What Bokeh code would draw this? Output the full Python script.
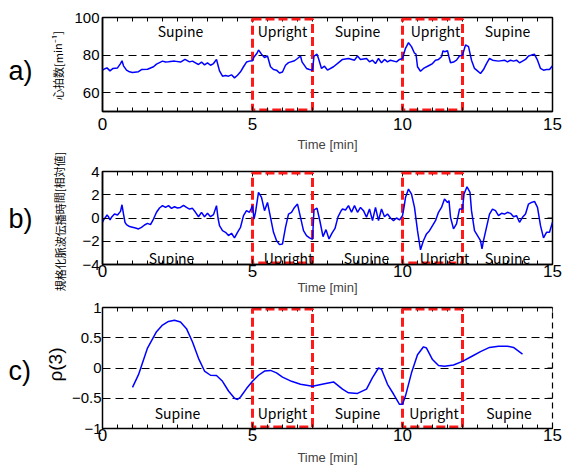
import math
from bokeh.plotting import figure
from bokeh.layouts import column, row
from bokeh.models import Range1d, FixedTicker, LinearAxis, CustomJSTickFormatter
from bokeh.core.properties import value
from bokeh.embed import file_html
from bokeh.resources import INLINE

# ---------------- data ----------------
hr_t = [0.0, 0.1, 0.15, 0.25, 0.35, 0.5, 0.6, 0.65, 0.7, 0.8, 0.9, 1.0, 1.2, 1.3, 1.5, 1.7, 1.8,
        2.0, 2.1, 2.2, 2.4, 2.6, 2.75, 2.9, 3.0, 3.1, 3.2, 3.3, 3.4, 3.5, 3.6, 3.7, 3.8, 3.85,
        3.9, 4.0, 4.1, 4.2, 4.3, 4.4, 4.5, 4.6, 4.7, 4.8, 4.9, 5.0, 5.05, 5.15, 5.2, 5.3, 5.4,
        5.5, 5.6, 5.7, 5.8, 5.9, 6.0, 6.1, 6.2, 6.4, 6.5, 6.6, 6.65, 6.8, 6.9, 7.0, 7.05, 7.15,
        7.2, 7.3, 7.4, 7.5, 7.7, 7.9, 8.0, 8.2, 8.4, 8.5, 8.6, 8.8, 8.9, 9.0, 9.1, 9.2, 9.3,
        9.4, 9.5, 9.6, 9.8, 9.9, 10.0, 10.05, 10.1, 10.2, 10.3, 10.4, 10.45, 10.5, 10.6, 10.7,
        10.9, 11.0, 11.1, 11.2, 11.3, 11.35, 11.4, 11.5, 11.55, 11.6, 11.7, 11.8, 11.9, 12.0,
        12.1, 12.2, 12.3, 12.4, 12.5, 12.6, 12.7, 12.8, 12.9, 13.0, 13.2, 13.4, 13.5, 13.6,
        13.7, 13.8, 13.9, 14.0, 14.1, 14.2, 14.3, 14.4, 14.5, 14.6, 14.7, 14.8, 14.9, 15.0]
hr = [72.0, 72.9, 73.2, 71.6, 72.9, 73.2, 75.5, 77.0, 74.3, 72.0, 71.1, 70.7, 71.2, 72.3, 72.5,
      73.8, 75.2, 76.8, 76.3, 76.4, 76.8, 76.3, 77.7, 76.4, 76.8, 75.9, 75.0, 76.3, 74.8, 75.9,
      74.6, 75.5, 77.7, 74.6, 71.6, 68.8, 69.1, 68.8, 69.5, 67.9, 69.3, 71.1, 73.8, 76.3, 76.8,
      77.0, 79.0, 81.0, 82.7, 80.5, 78.7, 79.5, 73.8, 72.3, 72.0, 70.5, 71.0, 74.6, 76.0, 77.0,
      78.2, 79.5, 76.4, 72.9, 72.3, 72.0, 79.5, 80.5, 78.2, 72.9, 74.1, 72.0, 73.8, 76.4, 77.7,
      78.2, 77.3, 79.5, 77.7, 78.2, 76.4, 77.3, 75.5, 78.2, 75.9, 77.7, 76.4, 77.3, 76.4, 77.7,
      78.2, 81.0, 83.6, 86.6, 84.5, 81.0, 80.5, 73.8, 71.4, 72.9, 74.6, 75.5, 77.3, 77.7, 79.1,
      82.3, 81.8, 82.3, 79.0, 75.9, 76.3, 77.3, 79.5, 80.0, 85.4, 84.5, 77.3, 72.9, 71.6, 70.2,
      72.3, 75.5, 78.2, 77.3, 76.8, 77.3, 76.4, 77.3, 76.8, 77.3, 75.9, 76.8, 77.7, 79.5, 80.0,
      80.4, 77.3, 72.9, 72.0, 72.3, 72.3, 74.3]

ptt_t = [0.0, 0.05, 0.1, 0.15, 0.2, 0.25, 0.3, 0.4, 0.5, 0.6, 0.65, 0.7, 0.75, 0.8, 0.9, 1.0,
         1.1, 1.2, 1.3, 1.4, 1.5, 1.6, 1.7, 1.8, 1.9, 2.0, 2.1, 2.2, 2.3, 2.4, 2.5, 2.6, 2.7,
         2.8, 2.9, 3.0, 3.1, 3.2, 3.3, 3.4, 3.5, 3.6, 3.7, 3.8, 3.85, 3.9, 4.0, 4.1, 4.2, 4.3,
         4.4, 4.5, 4.6, 4.7, 4.8, 4.9, 4.95, 5.0, 5.05, 5.1, 5.2, 5.3, 5.4, 5.5, 5.6, 5.7, 5.8,
         5.9, 6.0, 6.1, 6.2, 6.3, 6.4, 6.5, 6.6, 6.7, 6.8, 6.9, 7.0, 7.05, 7.15, 7.25, 7.35,
         7.45, 7.55, 7.65, 7.75, 7.85, 7.95, 8.0, 8.1, 8.2, 8.3, 8.4, 8.5, 8.6, 8.7, 8.8, 8.9,
         9.0, 9.1, 9.2, 9.3, 9.4, 9.5, 9.6, 9.7, 9.8, 9.9, 10.0, 10.05, 10.1, 10.2, 10.3, 10.4,
         10.5, 10.6, 10.7, 10.8, 10.9, 11.0, 11.1, 11.2, 11.3, 11.4, 11.5, 11.55, 11.6, 11.7,
         11.8, 11.9, 12.0, 12.05, 12.15, 12.25, 12.3, 12.4, 12.5, 12.6, 12.65, 12.7, 12.8, 12.9,
         13.0, 13.1, 13.2, 13.3, 13.4, 13.5, 13.6, 13.7, 13.8, 13.9, 14.0, 14.1, 14.2, 14.3,
         14.4, 14.5, 14.6, 14.7, 14.8, 14.9, 15.0]
ptt = [-0.37, -0.1, 0.06, 0.26, 0.11, -0.17, 0.06, 0.34, 0.26, 0.57, 1.14, 0.34, -0.37, -0.57,
       -0.74, -0.8, -0.86, -0.94, -0.8, -0.6, -0.46, -0.57, -0.09, 0.49, 0.86, 1.06, 0.91, 1.06,
       0.83, 0.97, 0.86, 0.91, 1.09, 0.91, 0.77, 0.83, 0.49, 0.11, 0.49, 0.11, 0.4, 0.11, 0.29,
       1.06, 0.0, -0.66, -1.09, -1.23, -1.51, -1.31, -1.71, -1.23, -0.8, 0.2, 0.63, 0.49, 0.77,
       1.06, -0.09, 0.49, 2.2, 1.77, 0.63, 1.34, 0.06, -1.23, -1.94, -2.29, -2.23, -0.8, 0.34,
       0.49, 0.91, 1.2, 0.06, -1.09, -1.51, -1.71, -1.83, 0.7, 0.85, -0.3, -1.6, -1.0, -1.8,
       -1.3, -0.9, 0.1, 0.6, 0.77, 0.69, 1.06, 0.49, 1.06, 0.49, 0.91, 0.63, 0.06, 0.77, -0.23,
       0.91, -0.23, 0.77, 0.11, 0.34, 0.0, -0.23, 0.0, -0.17, 0.2, 0.91, 1.77, 2.49, 2.06, 0.91,
       -1.09, -2.74, -1.94, -1.37, -1.09, -0.66, -0.23, 0.49, 0.91, 1.63, 1.34, 1.49, 0.06,
       -0.94, -0.51, 0.77, 0.77, 2.06, 2.69, 2.2, 0.63, -1.09, -1.51, -1.94, -2.66, -1.94, -0.8,
       0.34, 0.77, 0.63, 0.2, 0.4, 0.34, 0.49, 0.4, 0.11, 0.2, -0.37, 0.06, 0.34, 1.2, 1.34,
       1.43, 0.91, -0.66, -1.71, -1.23, -1.23, -0.37]

rho_t = [1.0, 1.2, 1.5, 1.8, 2.0, 2.2, 2.4, 2.6, 2.8, 3.0, 3.2, 3.4, 3.6, 3.8, 4.0, 4.2, 4.4,
         4.5, 4.6, 4.8, 5.0, 5.2, 5.4, 5.6, 5.8, 6.0, 6.3, 6.6, 7.0, 7.4, 7.7, 8.0, 8.2, 8.5,
         8.8, 9.0, 9.2, 9.3, 9.5, 9.7, 9.9, 10.0, 10.1, 10.3, 10.5, 10.7, 10.8, 11.0, 11.2,
         11.4, 11.7, 12.0, 12.3, 12.6, 12.9, 13.2, 13.5, 13.7, 14.0]
rho = [-0.32, -0.11, 0.33, 0.6, 0.71, 0.77, 0.79, 0.76, 0.65, 0.43, 0.16, -0.05, -0.12,
       -0.125, -0.22, -0.38, -0.5, -0.52, -0.48, -0.34, -0.22, -0.12, -0.05, -0.04, -0.08,
       -0.15, -0.22, -0.27, -0.3, -0.26, -0.23, -0.35, -0.41, -0.42, -0.35, -0.16, 0.0, -0.02,
       -0.27, -0.43, -0.6, -0.6, -0.46, -0.08, 0.22, 0.35, 0.33, 0.14, 0.04, 0.03, 0.05, 0.11,
       0.19, 0.27, 0.34, 0.36, 0.36, 0.34, 0.23]

upright_start = [5, 10]
upright_end = [7, 12]
phase_labels = ["Supine", "Upright", "Supine", "Upright", "Supine"]
phase_x_a = [2.6, 6.0, 8.5, 11.1, 13.5]
phase_x_b = [2.3, 6.2, 8.8, 11.4, 13.5]
phase_x_c = [2.5, 6.0, 8.5, 11.05, 13.55]

x_ticks = [0, 5, 10, 15]
x_minor = [0.5 * i for i in range(31)]
hr_ticks = [60, 80, 100]
hr_grid = [60, 80]
ptt_ticks = [-4, -2, 0, 2, 4]
ptt_grid = [-2, 0, 2]
rho_ticks = [-1, -0.5, 0, 0.5, 1]
rho_grid = [-0.5, 0, 0.5]

panel_letters = ["a)", "b)", "c)"]
side_labels = ["心拍数[min⁻¹]", "規格化脈波伝播時間[相対値]", "ρ(3)"]
time_label = "Time [min]"

# ---------------- layout constants ----------------
SIDE_W = 68          # width of the strip holding panel letters and y titles
FRAME_LEFT = 101     # page x of the plot frames
FW = 451             # frame width
RIGHT = 12
TOTAL_H = 468
TICK_FONT = "Liberation Sans"
JP_FONT = "Noto Sans CJK JP"
BLUE = "#0000ff"
RED = "#ff1a1a"
minus_fmt = CustomJSTickFormatter(code="return tick < 0 ? '\u2212' + (-tick) : '' + tick;")


def style_axis(ax, ticker, label_size, standoff):
    ax.ticker = ticker
    ax.axis_line_color = "black"
    ax.axis_line_width = 1.5
    ax.major_tick_in = 5
    ax.major_tick_out = 0
    ax.minor_tick_in = 4
    ax.minor_tick_out = 0
    ax.major_tick_line_color = "black"
    ax.minor_tick_line_color = "black"
    ax.major_label_text_font = TICK_FONT
    ax.major_label_text_color = "black"
    ax.major_label_text_font_size = label_size
    ax.major_label_standoff = standoff


def make_panel(height, top, frame_h, y0, y1, yticks, ygrid, yfmt,
               x_std, y_std, t_std, dashed_right=False):
    bottom = height - top - frame_h
    border_left = FRAME_LEFT - SIDE_W
    width = border_left + FW + RIGHT
    p = figure(width=width, height=height, x_range=Range1d(0, 15), y_range=Range1d(y0, y1),
               output_backend="svg", toolbar_location=None,
               min_border_left=border_left, min_border_right=RIGHT,
               min_border_top=top, min_border_bottom=bottom)
    p.background_fill_color = "white"
    p.border_fill_color = "white"
    style_axis(p.xaxis[0], FixedTicker(ticks=x_ticks, minor_ticks=x_minor), "17px", x_std)
    style_axis(p.yaxis[0], FixedTicker(ticks=yticks, minor_ticks=[]), "15px", y_std)
    if yfmt is not None:
        p.yaxis[0].formatter = yfmt
    p.xaxis[0].axis_label = time_label
    p.xaxis[0].axis_label_text_font = TICK_FONT
    p.xaxis[0].axis_label_text_font_size = "13px"
    p.xaxis[0].axis_label_text_font_style = "normal"
    p.xaxis[0].axis_label_standoff = t_std
    if dashed_right:
        p.outline_line_alpha = 0
        top_ax = LinearAxis(ticker=FixedTicker(ticks=[]), major_label_standoff=0,
                            axis_line_color="black", axis_line_width=1.5)
        p.add_layout(top_ax, "above")
        right_ax = LinearAxis(ticker=FixedTicker(ticks=[]), major_label_standoff=0,
                              axis_line_color="black", axis_line_width=1.2,
                              axis_line_dash="6 4")
        p.add_layout(right_ax, "right")
    else:
        p.outline_line_color = "black"
        p.outline_line_width = 1.5
    p.xgrid.visible = False
    p.ygrid.ticker = FixedTicker(ticks=ygrid, minor_ticks=[])
    p.ygrid.grid_line_color = "black"
    p.ygrid.grid_line_dash = "8 5"
    p.ygrid.grid_line_width = 1

    # mirrored tick marks on the top and right edges
    dx = 15.0 / FW
    dy = (y1 - y0) / frame_h
    p.segment(x0=x_minor, x1=x_minor, y0=[y1] * len(x_minor), y1=[y1 - 4 * dy] * len(x_minor),
              line_color="black", line_width=1)
    p.segment(x0=x_ticks, x1=x_ticks, y0=[y1] * len(x_ticks), y1=[y1 - 5 * dy] * len(x_ticks),
              line_color="black", line_width=1)
    p.segment(x0=[15] * len(yticks), x1=[15 - 5 * dx] * len(yticks), y0=yticks, y1=yticks,
              line_color="black", line_width=1)

    inset = 1.6 * dy
    p.quad(left=upright_start, right=upright_end,
           bottom=[y0 + inset] * len(upright_start), top=[y1 - inset] * len(upright_start),
           fill_alpha=0, line_color=RED, line_width=3, line_dash="9 4")
    return p


def phase_text(p, xs, y):
    p.text(x=xs, y=[y] * len(xs), text=phase_labels, text_font=value(JP_FONT),
           text_font_size="14px", text_align="center", text_baseline="middle",
           text_color="black")


# ---------------- left strip: panel letters and y-axis titles ----------------
side = figure(width=SIDE_W, height=TOTAL_H, x_range=Range1d(0, SIDE_W),
              y_range=Range1d(TOTAL_H, 0), output_backend="svg", toolbar_location=None,
              min_border=0, x_axis_location=None, y_axis_location=None)
side.outline_line_color = None
side.grid.visible = False
side.background_fill_color = "white"
side.border_fill_color = "white"
side.text(x=[8, 8, 8], y=[70, 218, 370], text=panel_letters, text_font=value(TICK_FONT),
          text_font_size="27px", text_align="left", text_baseline="middle", text_color="black")
side.text(x=[57], y=[65], text=[side_labels[0]], angle=[math.pi / 2], text_font=value(JP_FONT),
          text_font_size="11px", text_align="center", text_baseline="middle", text_color="black")
side.text(x=[59], y=[221], text=[side_labels[1]], angle=[math.pi / 2], text_font=value(JP_FONT),
          text_font_size="11px", text_align="center", text_baseline="middle", text_color="black")
side.text(x=[55], y=[364], text=[side_labels[2]], angle=[math.pi / 2],
          text_font=value(TICK_FONT), text_font_size="19px", text_align="center",
          text_baseline="middle", text_color="black")

# ---------------- panel a (page rows 0..155) ----------------
A_Y0, A_Y1 = 50, 100
A_H, A_TOP, A_FH = 155, 17, 94
pa = make_panel(A_H, A_TOP, A_FH, A_Y0, A_Y1, hr_ticks, hr_grid, None, 6, 3, 4)
pa.line(hr_t, hr, line_color=BLUE, line_width=1.5)
phase_text(pa, phase_x_a, A_Y1 - (30 - A_TOP) / A_FH * (A_Y1 - A_Y0))

# ---------------- panel b (page rows 155..298) ----------------
B_Y0, B_Y1 = -4, 4
B_H, B_TOP, B_FH = 143, 16, 93
pb = make_panel(B_H, B_TOP, B_FH, B_Y0, B_Y1, ptt_ticks, ptt_grid, minus_fmt, 0, 3, 0)
pb.line(ptt_t, ptt, line_color=BLUE, line_width=1.5)
phase_text(pb, phase_x_b, B_Y1 - (257 - 171) / B_FH * (B_Y1 - B_Y0))

# ---------------- panel c (page rows 298..468) ----------------
C_Y0, C_Y1 = -1, 1
C_H, C_TOP, C_FH = 170, 9, 121
pc = make_panel(C_H, C_TOP, C_FH, C_Y0, C_Y1, rho_ticks, rho_grid, minus_fmt, 0, 1, 6,
                dashed_right=True)
pc.line(rho_t, rho, line_color=BLUE, line_width=1.5)
phase_text(pc, phase_x_c, C_Y1 - (412 - 307) / C_FH * (C_Y1 - C_Y0))

layout = row(side, column(pa, pb, pc, spacing=0), spacing=0)
open("out.html", "w").write(file_html(layout, INLINE))
